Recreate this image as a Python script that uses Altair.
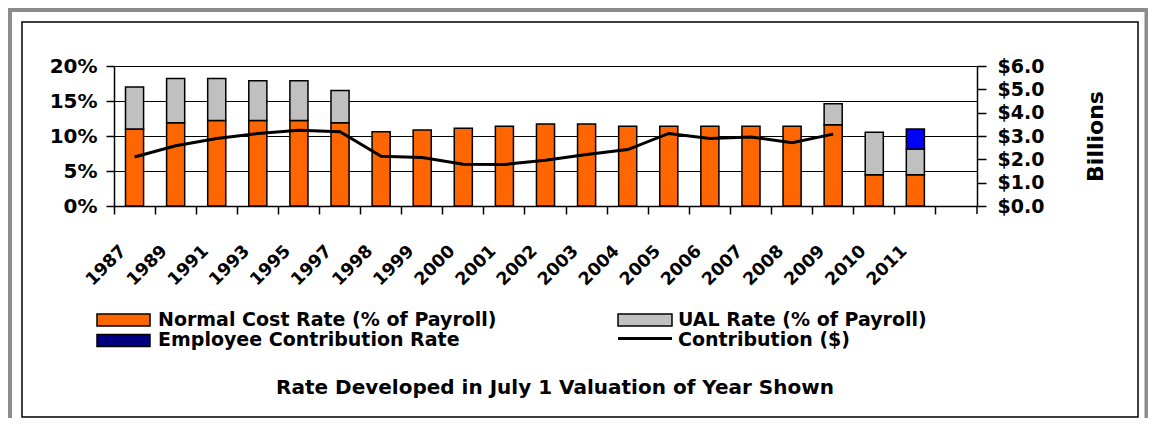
import altair as alt
import pandas as pd

# ---------------- data ----------------
years = ["1987", "1989", "1991", "1993", "1995", "1997", "1998", "1999", "2000", "2001",
         "2002", "2003", "2004", "2005", "2006", "2007", "2008", "2009", "2010", "2011"]
slots = years + [" "]

normal_rate = [11.0, 11.9, 12.2, 12.2, 12.2, 11.9, 10.6, 10.85, 11.1, 11.4,
               11.7, 11.7, 11.4, 11.4, 11.4, 11.4, 11.4, 11.6, 4.45, 4.45]
ual_rate = [6.0, 6.3, 6.0, 5.7, 5.7, 4.6, 0, 0, 0, 0,
            0, 0, 0, 0, 0, 0, 0, 3.0, 6.1, 3.7]
employee_rate = [0, 0, 0, 0, 0, 0, 0, 0, 0, 0,
                 0, 0, 0, 0, 0, 0, 0, 0, 0, 2.85]
contribution_years = years[:18]
contribution = [2.10, 2.58, 2.89, 3.11, 3.25, 3.18, 2.13, 2.08, 1.79, 1.78,
                1.96, 2.21, 2.42, 3.11, 2.89, 2.96, 2.71, 3.08]

series = ["Normal Cost Rate (% of Payroll)", "UAL Rate (% of Payroll)",
          "Employee Contribution Rate", "Contribution ($)"]
bar_colors = ["#FF6600", "#C0C0C0", "#0000FF"]
legend_colors = ["#FF6600", "#C0C0C0", "#000080"]
title_text = "Rate Developed in July 1 Valuation of Year Shown"

rows = []
for i, y in enumerate(years):
    for k, vals in enumerate([normal_rate, ual_rate, employee_rate]):
        if vals[i] > 0:
            rows.append({"year": y, "series": series[k], "value": vals[i], "order": k})
bars_df = pd.DataFrame(rows)
line_df = pd.DataFrame({"year": contribution_years, "contribution": contribution})
one = pd.DataFrame({"k": [0]})

FONT = "DejaVu Sans"

xscale = alt.Scale(domain=slots, paddingInner=0, paddingOuter=0)
xaxis = alt.Axis(title=None, bandPosition=0, labelAngle=315, labelAlign="right",
                 labelBaseline="middle", labelPadding=34, labelOffset=-11,
                 labelFont=FONT, labelFontSize=17.5, labelFontWeight="bold",
                 labelColor="black", labelOverlap=False,
                 tickSize=8, tickColor="black", tickWidth=1.5,
                 domainColor="black", domainWidth=1.5, grid=False)

yaxis_left = alt.Axis(title=None, values=[0, 5, 10, 15, 20], labelExpr="datum.value + '%'",
                      labelFont=FONT, labelFontSize=20, labelFontWeight="bold",
                      labelColor="black", labelPadding=9,
                      tickSize=8, tickColor="black", tickWidth=1.5,
                      domainColor="black", domainWidth=1.5,
                      grid=True, gridColor="black", gridWidth=1)

yaxis_right = alt.Axis(orient="right", title="Billions", values=[0, 1, 2, 3, 4, 5, 6],
                       format="$.1f", labelFont=FONT, labelFontSize=19,
                       labelFontWeight="bold", labelColor="black", labelPadding=11,
                       tickSize=9, tickColor="black", tickWidth=1.5,
                       domainColor="black", domainWidth=1.5, grid=False,
                       titleFont=FONT, titleFontSize=22, titleFontWeight="bold",
                       titleColor="black", titleAngle=270, titleX=118, titleY=70,
                       titleAlign="center", titleBaseline="middle")

bars = alt.Chart(bars_df).mark_bar(
    width=alt.RelativeBandSize(0.44), stroke="black", strokeWidth=1.5
).encode(
    x=alt.X("year:N", scale=xscale, sort=None, axis=xaxis),
    y=alt.Y("value:Q", stack="zero", scale=alt.Scale(domain=[0, 20], nice=False), axis=yaxis_left),
    color=alt.Color("series:N", scale=alt.Scale(domain=series[:3], range=bar_colors), legend=None),
    order=alt.Order("order:Q"),
)

line = alt.Chart(line_df).mark_line(color="black", strokeWidth=3).encode(
    x=alt.X("year:N", scale=xscale, sort=None, axis=xaxis),
    y=alt.Y("contribution:Q", scale=alt.Scale(domain=[0, 6], nice=False), axis=yaxis_right),
)

# ---------------- decorations (frame, legend, caption) ----------------
def rect(x, x2, y, y2, fill, stroke, sw, fo=1.0):
    return alt.Chart(one).mark_rect(fill=fill, fillOpacity=fo, stroke=stroke, strokeWidth=sw).encode(
        x=alt.value(x), x2=alt.value(x2), y=alt.value(y), y2=alt.value(y2))

def label(txt, x, y, size, align="left"):
    return alt.Chart(pd.DataFrame({"t": [txt]})).mark_text(
        font=FONT, fontSize=size, fontWeight="bold", color="black",
        align=align, baseline="middle").encode(
        text="t:N", x=alt.value(x), y=alt.value(y))

outer = rect(-106, 1034.5, -58, 420, "white", "#8c8c8c", 8, 0)
frame = rect(-92, 1024, -44, 351, "white", "black", 1.5, 0)
right_tick = alt.Chart(one).mark_rule(color="black", strokeWidth=1.5).encode(
    x=alt.value(863), y=alt.value(140), y2=alt.value(148))

leg = [
    rect(-17, 36, 248, 260, legend_colors[0], "black", 1.5),
    rect(504, 558, 248, 260, legend_colors[1], "black", 1.5),
    rect(-17, 36, 268.5, 280.5, legend_colors[2], "black", 1.5),
    alt.Chart(one).mark_rule(color="black", strokeWidth=3).encode(
        x=alt.value(504), x2=alt.value(558), y=alt.value(272.5)),
    label(series[0], 44, 254, 19),
    label(series[1], 564, 254, 19),
    label(series[2], 44, 274, 19),
    label(series[3], 564, 274, 19),
    label(title_text, 441, 322, 20, "center"),
]

chart = alt.layer(outer, frame, bars, line, right_tick, *leg).resolve_scale(
    y="independent"
).properties(
    width=863, height=140,
    autosize=alt.AutoSizeParams(type="none"),
    padding={"left": 106, "top": 58, "right": 171, "bottom": 212},
    background="white",
).configure_view(strokeWidth=0)

chart.save("out.html", embed_options={"renderer": "svg", "actions": False})
